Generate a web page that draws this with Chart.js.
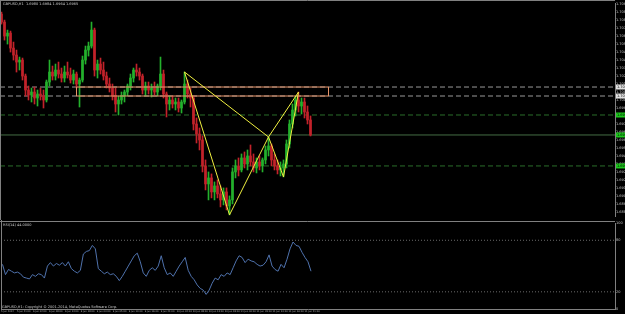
<!DOCTYPE html>
<html>
<head>
<meta charset="utf-8">
<script src="https://cdn.jsdelivr.net/npm/chart.js@4.4.1/dist/chart.umd.min.js"></script>
<style>
  html, body { margin: 0; padding: 0; background: #000; overflow: hidden; }
  #wrap { position: relative; width: 625px; height: 314px; background: #000; }
  canvas { position: absolute; left: 0; }
  #main { top: 0; }
  #rsi { top: 220px; }
</style>
</head>
<body>
<div id="wrap">
  <canvas id="main" width="625" height="220"></canvas>
  <canvas id="rsi" width="625" height="94"></canvas>
</div>
<script>
// GBPUSD H1 - candles (open/high/low/close)
const symbol = 'GBPUSD,H1';
const open = [
  1.7086,1.7078,1.7064,1.7067,1.7052,1.7045,1.7038,1.7040,1.7024,1.7010,
  1.7005,1.7008,1.7002,1.7006,1.7004,1.7000,1.7018,1.7028,1.7024,1.7030,
  1.7026,1.7022,1.7028,1.7025,1.7020,1.7026,1.7016,1.7020,1.7040,1.7050,
  1.7054,1.7070,1.7030,1.7036,1.7030,1.7024,1.7016,1.7012,1.7004,1.6996,
  1.7000,1.7004,1.7008,1.7014,1.7022,1.7030,1.7028,1.7024,1.7010,1.7014,
  1.7010,1.7012,1.7008,1.7014,1.7026,1.7006,1.6996,1.7000,1.6996,1.6998,
  1.6992,1.6998,1.7016,1.7006,1.7002,1.6976,1.6966,1.6960,1.6934,1.6916,
  1.6922,1.6908,1.6914,1.6906,1.6900,1.6908,1.6894,1.6900,1.6928,1.6934,
  1.6930,1.6942,1.6936,1.6944,1.6938,1.6932,1.6938,1.6934,1.6940,1.6950,
  1.6954,1.6940,1.6934,1.6930,1.6932,1.6936,1.6956,1.6976,1.6990,1.7000,
  1.6994,1.6998,1.6988,1.6980
];
const high = [
  1.7088,1.7080,1.7070,1.7069,1.7058,1.7050,1.7043,1.7042,1.7026,1.7014,
  1.7012,1.7013,1.7010,1.7012,1.7010,1.7020,1.7040,1.7034,1.7036,1.7038,
  1.7032,1.7034,1.7038,1.7032,1.7030,1.7028,1.7022,1.7044,1.7054,1.7058,
  1.7078,1.7072,1.7040,1.7042,1.7038,1.7028,1.7022,1.7016,1.7012,1.7004,
  1.7008,1.7010,1.7016,1.7026,1.7032,1.7036,1.7032,1.7026,1.7018,1.7018,
  1.7016,1.7018,1.7016,1.7043,1.7030,1.7008,1.7004,1.7004,1.7002,1.7002,
  1.7000,1.7028,1.7020,1.7012,1.7004,1.6982,1.6972,1.6964,1.6940,1.6928,
  1.6926,1.6918,1.6920,1.6914,1.6912,1.6912,1.6904,1.6932,1.6940,1.6942,
  1.6946,1.6948,1.6950,1.6955,1.6946,1.6942,1.6944,1.6942,1.6954,1.6963,
  1.6956,1.6946,1.6940,1.6938,1.6940,1.6960,1.6980,1.6996,1.7004,1.7008,
  1.7002,1.7002,1.6994,1.6984
];
const low = [
  1.7076,1.7060,1.7056,1.7048,1.7040,1.7028,1.7030,1.7020,1.7004,1.7000,
  1.6998,1.6996,1.6994,1.7000,1.6992,1.6998,1.7014,1.7020,1.7020,1.7022,
  1.7018,1.7018,1.7022,1.7017,1.7016,1.7012,1.6993,1.7018,1.7036,1.7044,
  1.7052,1.7024,1.7022,1.7026,1.7020,1.7012,1.7008,1.7000,1.6988,1.6985,
  1.6996,1.6998,1.7004,1.7010,1.7018,1.7024,1.7020,1.7006,1.7004,1.7006,
  1.7003,1.7005,1.7004,1.7010,1.7002,1.6983,1.6990,1.6992,1.6990,1.6988,
  1.6987,1.6996,1.7002,1.6993,1.6970,1.6957,1.6950,1.6928,1.6910,1.6900,
  1.6902,1.6900,1.6902,1.6893,1.6895,1.6890,1.6885,1.6896,1.6922,1.6924,
  1.6928,1.6932,1.6930,1.6934,1.6928,1.6927,1.6930,1.6928,1.6936,1.6944,
  1.6934,1.6930,1.6926,1.6924,1.6923,1.6932,1.6952,1.6972,1.6984,1.6988,
  1.6986,1.6982,1.6976,1.6964
];
const close = [
  1.7078,1.7064,1.7067,1.7052,1.7045,1.7038,1.7040,1.7024,1.7010,1.7005,
  1.7008,1.7002,1.7006,1.7004,1.7000,1.7018,1.7028,1.7024,1.7030,1.7026,
  1.7022,1.7028,1.7025,1.7020,1.7026,1.7016,1.7020,1.7040,1.7050,1.7054,
  1.7070,1.7030,1.7036,1.7030,1.7024,1.7016,1.7012,1.7004,1.6996,1.7000,
  1.7004,1.7008,1.7014,1.7022,1.7030,1.7028,1.7024,1.7010,1.7014,1.7010,
  1.7012,1.7008,1.7014,1.7026,1.7006,1.6996,1.7000,1.6996,1.6998,1.6992,
  1.6998,1.7016,1.7006,1.7002,1.6976,1.6966,1.6960,1.6934,1.6916,1.6922,
  1.6908,1.6914,1.6906,1.6900,1.6908,1.6894,1.6900,1.6928,1.6934,1.6930,
  1.6942,1.6936,1.6944,1.6938,1.6932,1.6938,1.6934,1.6940,1.6950,1.6954,
  1.6940,1.6934,1.6930,1.6932,1.6936,1.6956,1.6976,1.6990,1.7000,1.6994,
  1.6998,1.6988,1.6980,1.6965
];
// RSI(14)
const rsi = [
  52,40,46,44,42,43,41,37,36,35,
  40,38,41,40,36,50,54,50,53,51,
  54,50,55,47,44,42,45,64,67,68,
  74,70,47,44,41,43,40,41,38,33,
  38,44,50,56,62,65,55,42,38,45,
  48,45,50,62,48,40,42,38,44,50,
  55,60,45,38,34,28,24,22,17,22,
  30,36,34,40,38,42,40,48,56,62,
  60,54,58,56,55,52,50,51,55,63,
  50,46,44,52,48,58,70,78,74,73,
  66,60,55,44
];
const rsiLevels = [80, 20];
const rsiTicks = [0, 20, 80, 100];

// harmonic pattern X A B C D (bar index, price)
const patternBars = [61, 76, 89, 94, 99];
const patternPrices = [1.7028, 1.6885, 1.6963, 1.6923, 1.7008];

// resistance zone (bars from/to, prices top/bottom)
const zoneBars = [25, 109];
const zonePrices = [1.7013, 1.7004];

// horizontal lines
const grayLevels = [1.7013, 1.7004];
const greenLevels = [1.6985, 1.6934];
const bidLevel = 1.6965;

const timeLabels = ['5 Jun 2014','5 Jun 21:00','6 Jun 02:00','6 Jun 08:00','6 Jun 13:00',
  '6 Jun 18:00','9 Jun 00:00','9 Jun 05:00','9 Jun 10:00','9 Jun 16:00','9 Jun 21:00',
  '10 Jun 02:00','10 Jun 08:00','10 Jun 13:00','10 Jun 18:00','11 Jun 00:00','11 Jun 05:00',
  '11 Jun 10:00','11 Jun 16:00','11 Jun 21:00'];

const totalSlots = 205; // visible bar slots in the window
const xMin = -0.5, xMax = totalSlots - 0.5;
const FONT = '"DejaVu Sans"';

const bullColor = '#24b02c';
const bearColor = '#c2222a';
const corVela = open.map((o, i) => close[i] >= o ? bullColor : bearColor);

function hline(value, color, dash) {
  return {
    type: 'line',
    data: [{ x: xMin, y: value }, { x: xMax, y: value }],
    borderColor: color, borderWidth: 1, borderDash: dash || [],
    pointRadius: 0, order: 5
  };
}

const last = open.length - 1;
const header = symbol + '  ' + open[last].toFixed(4) + ' ' + high[last].toFixed(4) + ' ' +
  low[last].toFixed(4) + ' ' + close[last].toFixed(4);

// caixas de preço no eixo direito
const priceBoxes = [
  [grayLevels[0], '#e0e0e0'], [grayLevels[1], '#e0e0e0'],
  [greenLevels[0], '#1ec81e'], [bidLevel, '#1ec81e'], [greenLevels[1], '#1ec81e']
];

const mainFrame = {
  id: 'mainFrame',
  afterDraw(chart) {
    const { ctx, chartArea: a, scales: { y } } = chart;
    ctx.save();
    ctx.strokeStyle = '#808080';
    ctx.lineWidth = 1;
    ctx.beginPath();
    ctx.moveTo(a.left + 0.5, 0); ctx.lineTo(a.left + 0.5, chart.height);
    ctx.moveTo(0, 0.5); ctx.lineTo(a.right, 0.5);
    ctx.stroke();
    ctx.font = '3.5px ' + FONT;
    ctx.textBaseline = 'middle';
    ctx.fillStyle = '#c8c8c8';
    ctx.fillText(header, 3, 4);
    priceBoxes.forEach(([p, cor]) => {
      const py = y.getPixelForValue(p);
      ctx.fillStyle = cor;
      ctx.fillRect(a.right + 1, py - 2.5, 10, 5);
      ctx.fillStyle = '#000';
      ctx.fillText(p.toFixed(4), a.right + 2, py);
    });
    ctx.restore();
  }
};

new Chart(document.getElementById('main'), {
  type: 'bar',
  data: {
    datasets: [
      {
        // sombras
        data: low.map((l, i) => ({ x: i, y: [l, high[i]] })),
        backgroundColor: corVela, barThickness: 1, grouped: false, order: 3
      },
      {
        // corpos
        data: open.map((o, i) => ({ x: i, y: [o, close[i]] })),
        backgroundColor: corVela, barThickness: 2, minBarLength: 1, grouped: false, order: 2
      },
      hline(grayLevels[0], '#9a9a9a', [5, 3]),
      hline(grayLevels[1], '#9a9a9a', [5, 3]),
      hline(greenLevels[0], '#2a6e2a', [5, 3]),
      hline(greenLevels[1], '#2a6e2a', [5, 3]),
      hline(bidLevel, '#456e45'),
      {
        type: 'line',
        data: [
          { x: zoneBars[0], y: zonePrices[0] }, { x: zoneBars[1], y: zonePrices[0] },
          { x: zoneBars[1], y: zonePrices[1] }, { x: zoneBars[0], y: zonePrices[1] },
          { x: zoneBars[0], y: zonePrices[0] }
        ],
        borderColor: '#e8956a', borderWidth: 1, pointRadius: 0, order: 1
      },
      {
        // X-A-B-C-D e os lados X-B, B-D
        type: 'line',
        data: [0, 1, 2, 3, 4, 2, 0].map(k => ({ x: patternBars[k], y: patternPrices[k] })),
        borderColor: '#f0f040', borderWidth: 1, pointRadius: 0, order: 0
      }
    ]
  },
  options: {
    responsive: false,
    animation: false,
    devicePixelRatio: 1,
    layout: { padding: { top: 3, bottom: 3, left: 0, right: 0 } },
    plugins: { legend: { display: false }, tooltip: { enabled: false } },
    scales: {
      x: { type: 'linear', min: xMin, max: xMax, offset: false, display: false },
      y: {
        position: 'right',
        min: 1.6883, max: 1.7097,
        afterFit(s) { s.width = 10; },
        grid: { display: false, drawTicks: false },
        border: { display: true, color: '#808080' },
        ticks: {
          stepSize: 0.0008, includeBounds: false, padding: 1,
          color: '#c0c0c0', font: { family: FONT, size: 3.5 },
          callback: v => v.toFixed(4)
        }
      }
    }
  },
  plugins: [mainFrame]
});

const rsiFrame = {
  id: 'rsiFrame',
  afterDraw(chart) {
    const { ctx, chartArea: a } = chart;
    ctx.save();
    ctx.strokeStyle = '#808080';
    ctx.lineWidth = 1;
    ctx.beginPath();
    ctx.moveTo(0, 1.5); ctx.lineTo(a.right, 1.5);
    ctx.moveTo(a.left + 0.5, 0); ctx.lineTo(a.left + 0.5, a.bottom);
    ctx.stroke();
    ctx.font = '3.5px ' + FONT;
    ctx.textBaseline = 'middle';
    ctx.fillStyle = '#c8c8c8';
    ctx.fillText('RSI(14) ' + rsi[rsi.length - 1].toFixed(4), 3, a.top + 2);
    ctx.fillText(symbol + ': Copyright © 2001-2014, MetaQuotes Software Corp.', 2, a.bottom - 2);
    ctx.restore();
  }
};

new Chart(document.getElementById('rsi'), {
  type: 'line',
  data: {
    datasets: [
      {
        data: rsi.map((v, i) => ({ x: i, y: v })),
        borderColor: '#4f72ad', borderWidth: 1, pointRadius: 0, order: 1
      },
      ...rsiLevels.map(v => ({
        data: [{ x: xMin, y: v }, { x: xMax, y: v }],
        borderColor: '#6a6a6a', borderWidth: 1, borderDash: [1, 2], pointRadius: 0, order: 2
      }))
    ]
  },
  options: {
    responsive: false,
    animation: false,
    devicePixelRatio: 1,
    layout: { padding: { top: 3, bottom: 0, left: 0, right: 0 } },
    plugins: { legend: { display: false }, tooltip: { enabled: false } },
    scales: {
      x: {
        type: 'linear', min: xMin, max: xMax, offset: false,
        afterFit(s) { s.height = 5; },
        afterBuildTicks(s) { s.ticks = timeLabels.map((_, k) => ({ value: k * 16 / 3 - 0.5 })); },
        grid: { display: false, drawTicks: false },
        border: { display: true, color: '#808080' },
        ticks: {
          autoSkip: false, maxRotation: 0, align: 'start', padding: 1,
          color: '#b0b0b0', font: { family: FONT, size: 2.4 },
          callback: (v, i) => timeLabels[i]
        }
      },
      y: {
        position: 'right', min: 0, max: 100,
        afterFit(s) { s.width = 10; },
        afterBuildTicks(s) { s.ticks = rsiTicks.map(v => ({ value: v })); },
        grid: { display: false, drawTicks: false },
        border: { display: true, color: '#808080' },
        ticks: { padding: 1, color: '#c0c0c0', font: { family: FONT, size: 3.5 } }
      }
    }
  },
  plugins: [rsiFrame]
});
</script>
</body>
</html>
